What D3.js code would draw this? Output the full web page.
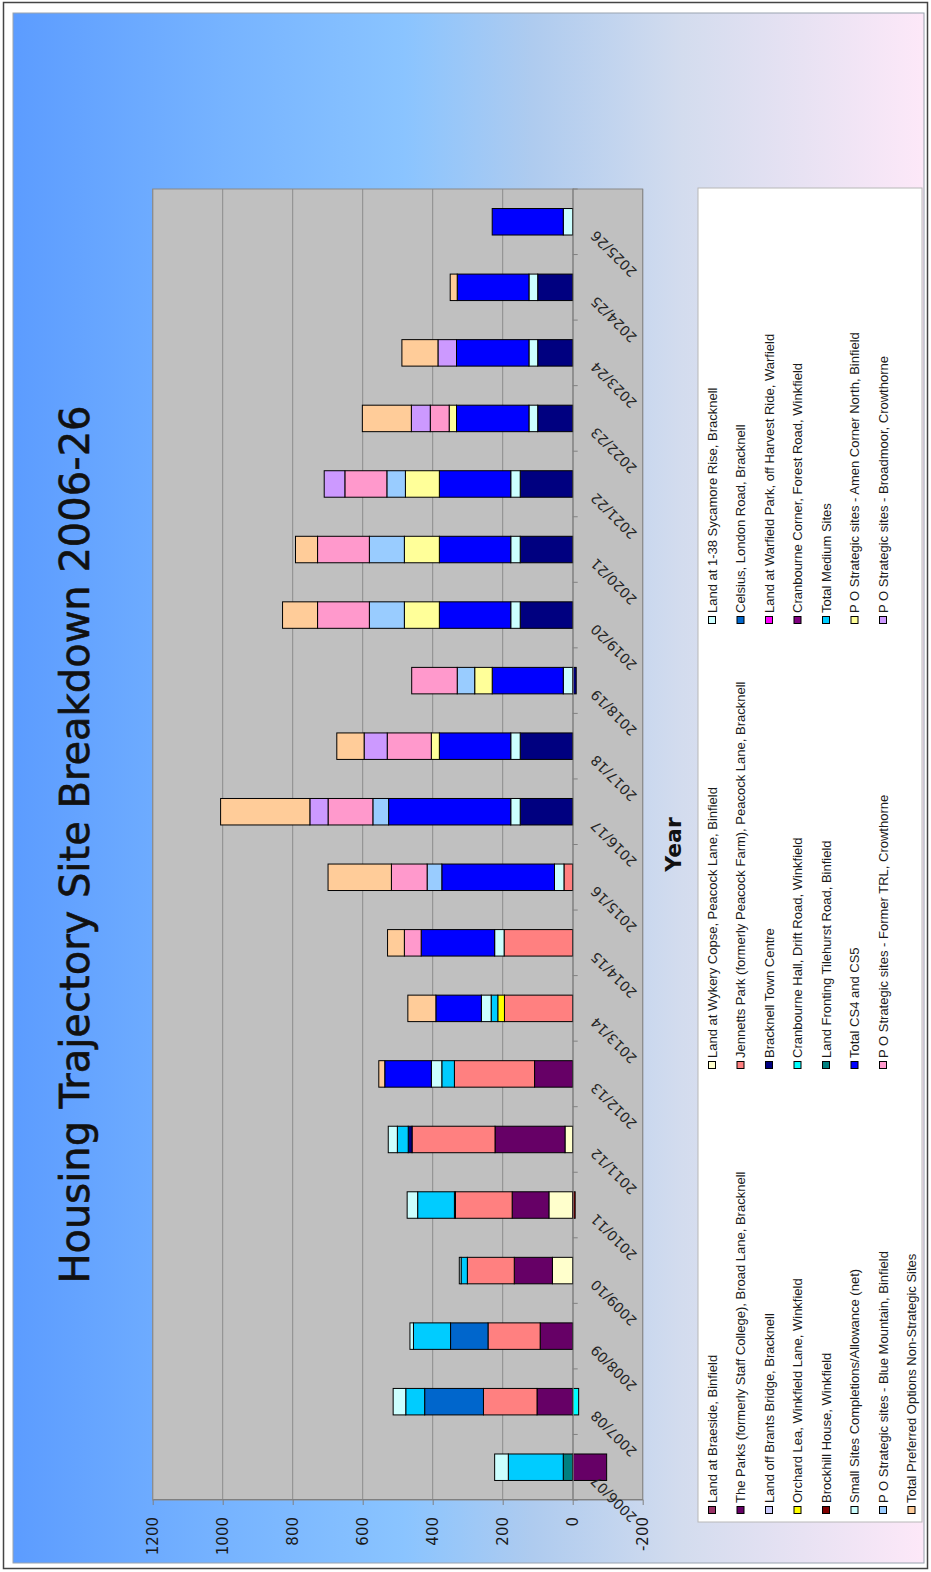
<!DOCTYPE html>
<html>
<head>
<meta charset="utf-8">
<script src="https://cdn.jsdelivr.net/npm/d3@7"></script>
<style>
  html, body { margin: 0; padding: 0; background: #ffffff; }
  svg { display: block; }
</style>
</head>
<body>
<script>
// ---- data -----------------------------------------------------------
const years = ["2006/07","2007/08","2008/09","2009/10","2010/11","2011/12","2012/13",
  "2013/14","2014/15","2015/16","2016/17","2017/18","2018/19","2019/20","2020/21",
  "2021/22","2022/23","2023/24","2024/25","2025/26"];

const valueTicks = [-200, 0, 200, 400, 600, 800, 1000, 1200];

// dwellings per year, one array per site (2006/07 ... 2025/26)
const braeside         = [0,0,0,0,0,0,0,0,0,0,0,0,0,0,0,0,0,0,0,0];
const wykeryCopse      = [0,0,0,58,68,22,0,0,0,0,0,0,0,0,0,0,0,0,0,0];
const sycamoreRise     = [0,0,0,0,0,0,0,0,0,0,0,0,0,0,0,0,0,0,0,0];
const theParks         = [-97,102,93,109,105,200,109,0,0,0,0,0,0,0,0,0,0,0,0,0];
const jennettsPark     = [0,153,149,134,162,237,229,195,196,25,0,0,0,0,0,0,0,0,0,0];
const celsius          = [0,168,107,0,0,0,0,0,0,0,0,0,0,0,0,0,0,0,0,0];
const brantsBridge     = [0,0,0,0,0,0,0,0,0,0,0,0,0,0,0,0,0,0,0,0];
const townCentre       = [0,0,0,0,3,11,0,0,0,0,150,150,-10,150,150,150,100,100,100,0];
const warfieldPark     = [0,0,0,0,0,0,0,0,0,0,0,0,0,0,0,0,0,0,0,0];
const orchardLea       = [0,0,0,0,0,0,0,19,0,0,0,0,0,0,0,0,0,0,0,0];
const cranbourneHall   = [0,-17,0,0,0,0,0,0,0,0,0,0,0,0,0,0,0,0,0,0];
const cranbourneCorner = [0,0,0,0,0,0,0,0,0,0,0,0,0,0,0,0,0,0,0,0];
const brockhillHouse   = [0,0,0,0,-7,0,0,0,0,0,0,0,0,0,0,0,0,0,0,0];
const tilehurstRoad    = [27,0,0,0,0,0,0,0,0,0,0,0,0,0,0,0,0,0,0,0];
const mediumSites      = [157,54,106,18,105,31,36,19,0,0,0,0,0,0,0,0,0,0,0,0];
const smallSites       = [39,36,10,5,30,26,30,28,27,27,27,27,27,27,27,27,25,25,25,27];
const cs4cs5           = [0,0,0,0,0,0,133,130,210,322,349,204,203,204,204,204,207,207,205,203];
const amenCorner       = [0,0,0,0,0,0,0,0,0,0,0,23,50,100,100,97,21,0,0,0];
const blueMountain     = [0,0,0,0,0,0,0,0,0,42,45,0,50,100,100,53,0,0,0,0];
const formerTRL        = [0,0,0,0,0,0,0,0,48,102,128,126,130,148,148,120,54,0,0,0];
const broadmoor        = [0,0,0,0,0,0,0,0,0,0,52,66,0,0,0,59,54,53,0,0];
const nonStrategic     = [0,0,0,0,0,0,17,80,48,181,255,78,0,100,63,0,140,103,20,0];

const seriesNames = [
  "Land at Braeside, Binfield",
  "Land at Wykery Copse, Peacock Lane, Binfield",
  "Land at 1-38 Sycamore Rise, Bracknell",
  "The Parks (formerly Staff College), Broad Lane, Bracknell",
  "Jennetts Park (formerly Peacock Farm), Peacock Lane, Bracknell",
  "Celsius, London Road, Bracknell",
  "Land off Brants Bridge, Bracknell",
  "Bracknell Town Centre",
  "Land at Warfield Park, off Harvest Ride, Warfield",
  "Orchard Lea, Winkfield Lane, Winkfield",
  "Cranbourne Hall, Drift Road, Winkfield",
  "Cranbourne Corner, Forest Road, Winkfield",
  "Brockhill House, Winkfield",
  "Land Fronting Tilehurst Road, Binfield",
  "Total Medium Sites",
  "Small Sites Completions/Allowance (net)",
  "Total CS4 and CS5",
  "P O Strategic sites - Amen Corner North, Binfield",
  "P O Strategic sites - Blue Mountain, Binfield",
  "P O Strategic sites - Former TRL, Crowthorne",
  "P O Strategic sites - Broadmoor, Crowthorne",
  "Total Preferred Options Non-Strategic Sites"
];

const seriesValues = [braeside, wykeryCopse, sycamoreRise, theParks, jennettsPark,
  celsius, brantsBridge, townCentre, warfieldPark, orchardLea, cranbourneHall,
  cranbourneCorner, brockhillHouse, tilehurstRoad, mediumSites, smallSites, cs4cs5,
  amenCorner, blueMountain, formerTRL, broadmoor, nonStrategic];

const seriesColors = ["#993366","#FFFFCC","#CCFFFF","#660066","#FF8080","#0066CC",
  "#CCCCFF","#000080","#FF00FF","#FFFF00","#00FFFF","#800080","#800000","#008080",
  "#00CCFF","#CCFFFF","#0000FF","#FFFF99","#99CCFF","#FF99CC","#CC99FF","#FFCC99"];

// ---- page -------------------------------------------------------------
const W = 931, H = 1572;
const svg = d3.select("body").append("svg").attr("width", W).attr("height", H);

const defs = svg.append("defs");
const grad = defs.append("linearGradient").attr("id", "bgGrad")
  .attr("x1", 0).attr("y1", 0).attr("x2", 1).attr("y2", 0);
[[0, "#5c9cff"], [0.23, "#76b3ff"], [0.43, "#8ac4ff"], [0.57, "#aecbef"],
 [0.735, "#d3dcee"], [1, "#fde8f8"]].forEach(([o, c]) =>
  grad.append("stop").attr("offset", o).attr("stop-color", c));

// outer frame and chart panel
svg.append("rect").attr("x", 3.5).attr("y", 2.5).attr("width", 924).attr("height", 1566)
  .attr("fill", "#ffffff").attr("stroke", "#444").attr("stroke-width", 1.5);
svg.append("rect").attr("x", 13).attr("y", 13).attr("width", 911).attr("height", 1550)
  .attr("fill", "url(#bgGrad)").attr("stroke", "#9aa4b0").attr("stroke-width", 1);

// the chart is laid out in landscape and turned a quarter turn
const g = svg.append("g").attr("transform", `translate(0,${H}) rotate(-90)`);

const plot = { left: 72, right: 1383, top: 152.7, bottom: 642.7 };

const x = d3.scaleBand().domain(years).range([plot.left, plot.right])
  .paddingInner(0.596).paddingOuter(0.298);
const y = d3.scaleLinear().domain([-200, 1200]).range([plot.bottom, plot.top]);

// plot area
g.append("rect").attr("x", plot.left).attr("y", plot.top)
  .attr("width", plot.right - plot.left).attr("height", plot.bottom - plot.top)
  .attr("fill", "#c0c0c0").attr("stroke", "#8a8a8a").attr("stroke-width", 1);

// gridlines
g.append("g").selectAll("line").data(valueTicks).join("line")
  .attr("x1", plot.left).attr("x2", plot.right)
  .attr("y1", d => y(d)).attr("y2", d => y(d))
  .attr("stroke", "#8c8c8c").attr("stroke-width", 1);

// value axis
const yAxis = g.append("g").attr("transform", `translate(${plot.left},0)`)
  .call(d3.axisLeft(y).tickValues(valueTicks).tickFormat(d => String(d))
    .tickSize(5).tickPadding(12).tickSizeOuter(0));
yAxis.select(".domain").attr("stroke", "#808080");
yAxis.selectAll(".tick line").attr("stroke", "#808080");
yAxis.selectAll("text").attr("font-family", "DejaVu Sans").attr("font-size", 15)
  .attr("fill", "#1a1a1a");

// stacked bars
const rows = years.map((yr, i) => {
  const r = { year: yr };
  seriesNames.forEach((n, k) => { r[n] = seriesValues[k][i]; });
  return r;
});
const stacked = d3.stack().keys(seriesNames)
  .order(d3.stackOrderNone).offset(d3.stackOffsetDiverging)(rows);

g.append("g").selectAll("g").data(stacked).join("g")
  .attr("fill", (d, k) => seriesColors[k])
  .selectAll("rect").data(d => d.filter(s => s[1] !== s[0])).join("rect")
  .attr("x", d => x(d.data.year))
  .attr("width", x.bandwidth())
  .attr("y", d => y(Math.max(d[0], d[1])))
  .attr("height", d => Math.abs(y(d[0]) - y(d[1])))
  .attr("stroke", "#000").attr("stroke-width", 1);

// category axis on the zero line
const xAxis = g.append("g").attr("transform", `translate(0,${y(0)})`)
  .call(d3.axisBottom(x).tickSize(0).tickSizeOuter(0));
xAxis.select(".domain").attr("stroke", "#808080");
xAxis.selectAll("text")
  .attr("font-family", "DejaVu Sans").attr("font-size", 14).attr("fill", "#262626")
  .attr("text-anchor", "end").attr("x", 0).attr("y", 0).attr("dy", 0)
  .attr("transform", "translate(-8,24) rotate(-45)");
// tick marks between categories
xAxis.append("g").selectAll("line").data(d3.range(years.length + 1)).join("line")
  .attr("x1", i => plot.left + i * x.step()).attr("x2", i => plot.left + i * x.step())
  .attr("y1", 0).attr("y2", 5).attr("stroke", "#808080");

// axis title
g.append("text").attr("x", (plot.left + plot.right) / 2).attr("y", 681)
  .attr("text-anchor", "middle").attr("font-family", "DejaVu Sans")
  .attr("font-weight", "bold").attr("font-size", 22).attr("fill", "#111")
  .text("Year");

// chart title
g.append("text").attr("x", (plot.left + plot.right) / 2).attr("y", 89)
  .attr("text-anchor", "middle").attr("font-family", "DejaVu Sans")
  .attr("font-size", 40).attr("fill", "#111")
  .attr("stroke", "#111").attr("stroke-width", 0.6)
  .text("Housing Trajectory Site Breakdown 2006-26");

// legend
const legend = { left: 50, right: 1384, top: 698, bottom: 922 };
g.append("rect").attr("x", legend.left).attr("y", legend.top)
  .attr("width", legend.right - legend.left).attr("height", legend.bottom - legend.top)
  .attr("fill", "#ffffff").attr("stroke", "#b8b8b8").attr("stroke-width", 1);

const colX = [62, 507, 952];
const rowY0 = 712, rowStep = 28.5;
const entries = g.append("g").selectAll("g").data(seriesNames).join("g")
  .attr("transform", (d, i) => `translate(${colX[i % 3]},${rowY0 + Math.floor(i / 3) * rowStep})`);
entries.append("rect").attr("x", -3.5).attr("y", -3.5).attr("width", 7).attr("height", 7)
  .attr("fill", (d, i) => seriesColors[i]).attr("stroke", "#000").attr("stroke-width", 1);
entries.append("text").attr("x", 7).attr("y", 0).attr("dy", "0.35em")
  .attr("font-family", "Liberation Sans").attr("font-size", 13).attr("fill", "#1a1a1a")
  .text(d => d);
</script>
</body>
</html>
